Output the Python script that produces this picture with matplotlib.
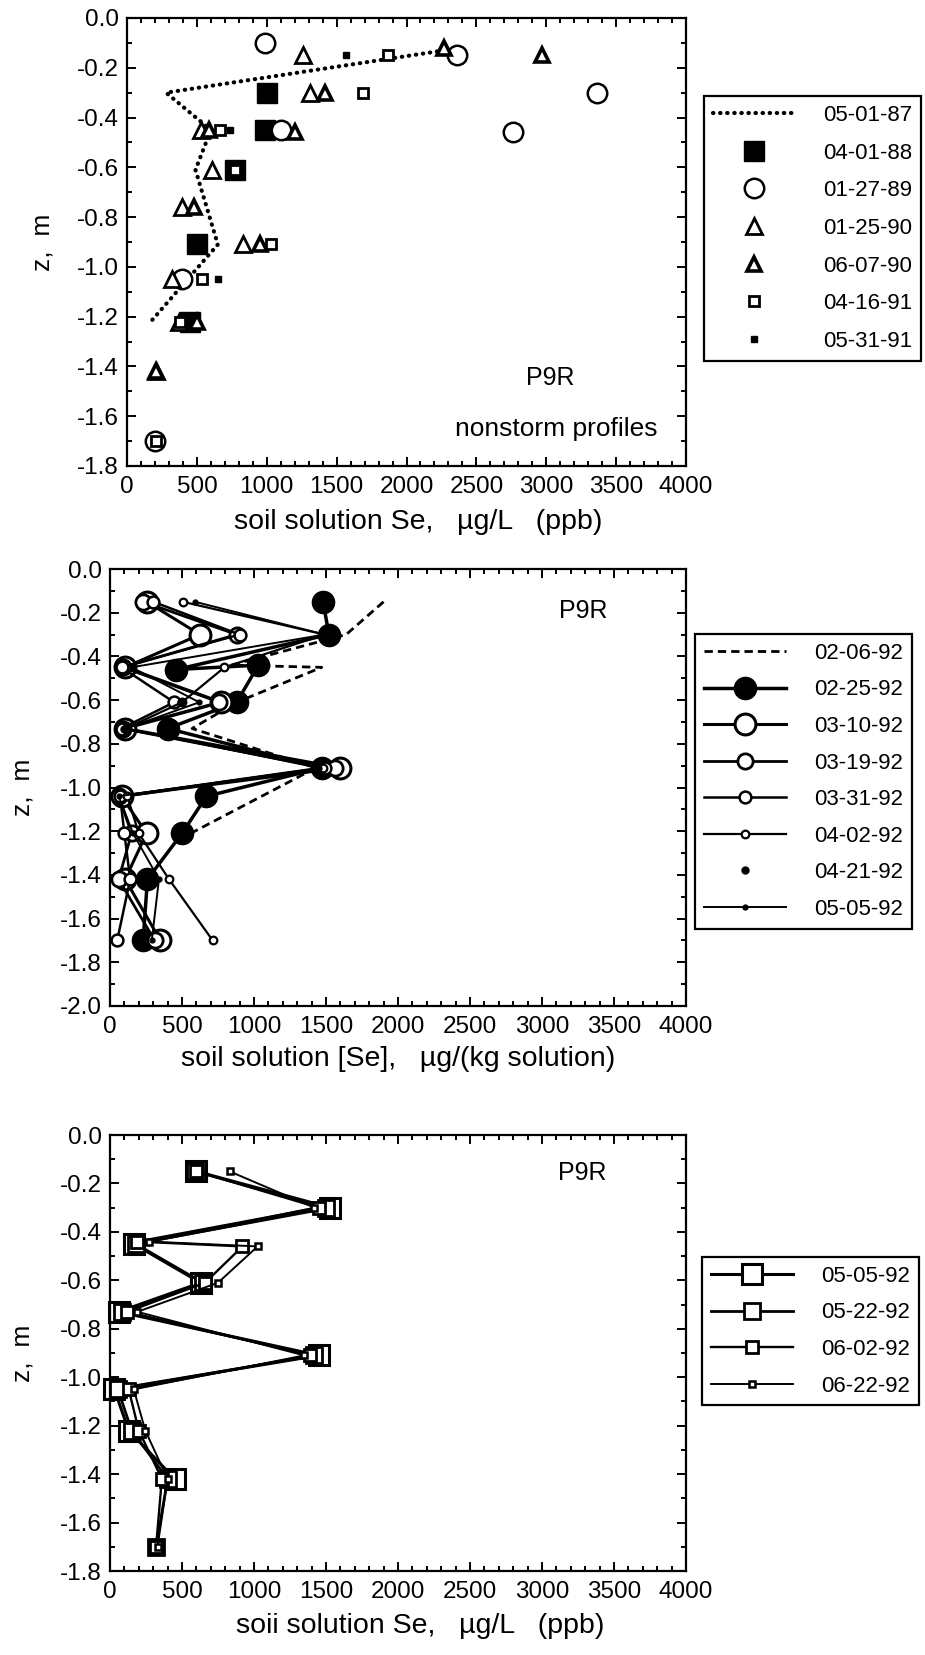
import matplotlib
matplotlib.use("Agg")
import matplotlib.pyplot as plt
from matplotlib.ticker import MultipleLocator, FormatStrFormatter

plt.rcParams['font.family'] = ['Liberation Sans', 'DejaVu Sans']
plt.rcParams['axes.unicode_minus'] = False
plt.rcParams['font.size'] = 16
plt.rcParams['legend.numpoints'] = 1

# ---------------- top panel: nonstorm profiles (ug/L) ----------------
se_870501 = [2270, 280, 600, 490, 650, 170]
z_870501 = [-0.13, -0.30, -0.45, -0.61, -0.91, -1.22]

se_880401 = [1000, 990, 775, 500, 450]
z_880401 = [-0.30, -0.45, -0.61, -0.91, -1.22]

se_890127 = [985, 2360, 3360, 1100, 2760, 390, 200]
z_890127 = [-0.10, -0.15, -0.30, -0.45, -0.46, -1.05, -1.70]

se_900125 = [1260, 1310, 530, 610, 395, 830, 320, 370, 210]
z_900125 = [-0.15, -0.30, -0.45, -0.61, -0.76, -0.91, -1.05, -1.22, -1.42]

se_900607 = [2270, 2970, 1420, 590, 1200, 480, 950, 500, 210]
z_900607 = [-0.12, -0.15, -0.30, -0.45, -0.46, -0.76, -0.91, -1.22, -1.42]

se_910416 = [1870, 1690, 665, 775, 1030, 535, 380, 210]
z_910416 = [-0.15, -0.30, -0.45, -0.61, -0.91, -1.05, -1.22, -1.70]

se_910531 = [1570, 740, 650]
z_910531 = [-0.15, -0.45, -1.05]

# ---------------- middle panel: early 1992 profiles (ug/kg solution) ----------------
se_920206 = [1900, 1640, 840, 1470, 880, 570, 1430, 560]
z_920206 = [-0.15, -0.30, -0.44, -0.45, -0.61, -0.73, -0.91, -1.21]

se_920225 = [1480, 1520, 460, 1030, 880, 400, 1470, 670, 500, 260, 230]
z_920225 = [-0.15, -0.30, -0.46, -0.44, -0.61, -0.73, -0.91, -1.04, -1.21, -1.42, -1.70]

z_1992 = [-0.15, -0.30, -0.45, -0.61, -0.73, -0.91, -1.04, -1.21, -1.42, -1.70]
se_920310 = [255, 625, 105, 773, 105, 1600, 80, 254, 105, 350]
se_920319 = [230, 880, 90, 760, 90, 1560, 60, 150, 60, 310]
se_920331 = [300, 900, 80, 445, 80, 1490, 70, 100, 140, 50]
se_920402 = [505, 1490, 795, 500, 110, 1480, 120, 200, 410, 713]
se_920505a = [590, 1490, 150, 620, 110, 1450, 60, 160, 340, 290]

se_920421 = [1490, 470, 490, 100, 280]
z_920421 = [-0.30, -0.45, -0.61, -0.73, -1.42]

# ---------------- bottom panel: late spring 1992 profiles (ug/L) ----------------
se_920505 = [600, 1530, 165, 630, 60, 1450, 30, 130, 450]
z_920505 = [-0.15, -0.30, -0.45, -0.61, -0.73, -0.91, -1.05, -1.22, -1.42]

se_920522 = [590, 1500, 180, 645, 85, 1420, 55, 150, 400, 320]
z_920522 = [-0.15, -0.30, -0.45, -0.61, -0.73, -0.91, -1.05, -1.22, -1.42, -1.70]

z_june = [-0.15, -0.30, -0.44, -0.46, -0.61, -0.73, -0.91, -1.05, -1.22, -1.42, -1.70]
se_920602 = [600, 1450, 190, 920, 660, 120, 1390, 130, 200, 360, 320]
se_920622 = [830, 1420, 270, 1025, 750, 190, 1350, 165, 245, 400, 330]

W, H = 925, 1655
fig = plt.figure(figsize=(W / 100, H / 100), dpi=100)

TICK_FS = 17.5
LABEL_FS = 20.5


def box(l, r, t, b):
    return [l / W, 1 - b / H, (r - l) / W, (b - t) / H]


def style_axes(ax, ymin, xlabel, xlab_x, xlab_off):
    ax.set_xlim(0, 4000)
    ax.set_ylim(ymin, 0)
    ax.xaxis.set_major_locator(MultipleLocator(500))
    ax.xaxis.set_minor_locator(MultipleLocator(100))
    ax.yaxis.set_major_locator(MultipleLocator(0.2))
    ax.yaxis.set_minor_locator(MultipleLocator(0.1))
    ax.yaxis.set_major_formatter(FormatStrFormatter('%.1f'))
    ax.tick_params(which='both', direction='in', top=True, right=True,
                   width=1.4, labelsize=TICK_FS)
    ax.tick_params(which='major', length=6.5)
    ax.tick_params(which='minor', length=3.5)
    ax.tick_params(axis='x', pad=7)
    ax.tick_params(axis='y', pad=6)
    for s in ax.spines.values():
        s.set_linewidth(1.6)
    ax.set_ylabel("z,  m", fontsize=19, va='center')
    ax.yaxis.set_label_coords(-0.152, 0.5)
    ax.set_xlabel(xlabel, fontsize=LABEL_FS, va='center')
    h_px = ax.get_position().height * H
    ax.xaxis.set_label_coords(xlab_x, -xlab_off / h_px)


def legend(handles, labels, x, y, spacing):
    lg = fig.legend(handles, labels, loc='upper left',
                    bbox_to_anchor=(x / W, 1 - y / H), bbox_transform=fig.transFigure,
                    frameon=True, fancybox=False, edgecolor='black', framealpha=1,
                    fontsize=16, handlelength=3.7, handletextpad=1.25,
                    labelspacing=spacing, borderpad=0.4, borderaxespad=0)
    lg.get_frame().set_linewidth(1.6)


K = 'black'
dotted = dict(color=K, lw=3.0, linestyle=(0, (0.1, 1.6)), dash_capstyle='round')

# ---- top panel ----
ax1 = fig.add_axes(box(127, 686, 18, 466))
style_axes(ax1, -1.8, "soil solution Se,   µg/L   (ppb)", 0.521, 56)
h1 = []
h1 += ax1.plot(se_870501, z_870501, **dotted)
h1 += ax1.plot(se_880401, z_880401, 's', ms=15, mfc=K, mec=K, ls='none', clip_on=False)
h1 += ax1.plot(se_890127, z_890127, 'o', ms=14, mfc='white', mec=K, mew=1.8, ls='none', clip_on=False)
h1 += ax1.plot(se_900125, z_900125, '^', ms=12, mfc='white', mec=K, mew=2.0, ls='none', clip_on=False)
h1 += ax1.plot(se_900607, z_900607, '^', ms=9.5, mfc='white', mec=K, mew=2.6, ls='none', clip_on=False)
h1 += ax1.plot(se_910416, z_910416, 's', ms=6.5, mfc='white', mec=K, mew=2.0, ls='none', clip_on=False)
h1 += ax1.plot(se_910531, z_910531, 's', ms=5, mfc=K, mec=K, ls='none', clip_on=False)
ax1.text(3030, -1.445, "P9R", ha='center', va='center', fontsize=18)
ax1.text(3070, -1.65, "nonstorm profiles", ha='center', va='center', fontsize=19)
legend(h1, ["05-01-87", "04-01-88", "01-27-89", "01-25-90", "06-07-90", "04-16-91", "05-31-91"],
       704, 96, 0.75)

# ---- middle panel ----
ax2 = fig.add_axes(box(110, 686, 569, 1006))
style_axes(ax2, -2.0, "soil solution [Se],   µg/(kg solution)", 0.5, 53)
h2 = []
h2 += ax2.plot(se_920206, z_920206, color=K, lw=2.0, linestyle=(0, (3, 1.8)))
h2 += ax2.plot(se_920225, z_920225, '-o', color=K, lw=2.5, ms=16, mfc=K, mec=K, clip_on=False)
h2 += ax2.plot(se_920310, z_1992, '-o', color=K, lw=2.2, ms=15, mfc='white', mec=K, mew=2.2, clip_on=False)
h2 += ax2.plot(se_920319, z_1992, '-o', color=K, lw=2.0, ms=11, mfc='white', mec=K, mew=2.0, clip_on=False)
h2 += ax2.plot(se_920331, z_1992, '-o', color=K, lw=1.8, ms=8.5, mfc='white', mec=K, mew=1.8, clip_on=False)
h2 += ax2.plot(se_920402, z_1992, '-o', color=K, lw=1.6, ms=5.5, mfc='white', mec=K, mew=1.6, clip_on=False)
h2 += ax2.plot(se_920421, z_920421, 'o', color=K, ms=5, ls='none', clip_on=False)
h2 += ax2.plot(se_920505a, z_1992, '-o', color=K, lw=1.4, ms=3.5, clip_on=False)
ax2.text(3285, -0.19, "P9R", ha='center', va='center', fontsize=18)
legend(h2, ["02-06-92", "02-25-92", "03-10-92", "03-19-92", "03-31-92", "04-02-92",
            "04-21-92", "05-05-92"], 695, 634, 0.7)

# ---- bottom panel ----
ax3 = fig.add_axes(box(110, 686, 1135, 1571))
style_axes(ax3, -1.8, "soii solution Se,   µg/L   (ppb)", 0.538, 55)
h3 = []
h3 += ax3.plot(se_920505, z_920505, '-s', color=K, lw=2.2, ms=15, mfc='white', mec=K, mew=2.2, clip_on=False)
h3 += ax3.plot(se_920522, z_920522, '-s', color=K, lw=2.0, ms=11.5, mfc='white', mec=K, mew=2.0, clip_on=False)
h3 += ax3.plot(se_920602, z_june, '-s', color=K, lw=1.7, ms=8, mfc='white', mec=K, mew=2.0, clip_on=False)
h3 += ax3.plot(se_920622, z_june, '-s', color=K, lw=1.4, ms=5, mfc='white', mec=K, mew=1.8, clip_on=False)
ax3.text(3280, -0.155, "P9R", ha='center', va='center', fontsize=18)
legend(h3, ["05-05-92", "05-22-92", "06-02-92", "06-22-92"], 702, 1257, 0.7)

fig.savefig("out.png", dpi=100, facecolor='white')
